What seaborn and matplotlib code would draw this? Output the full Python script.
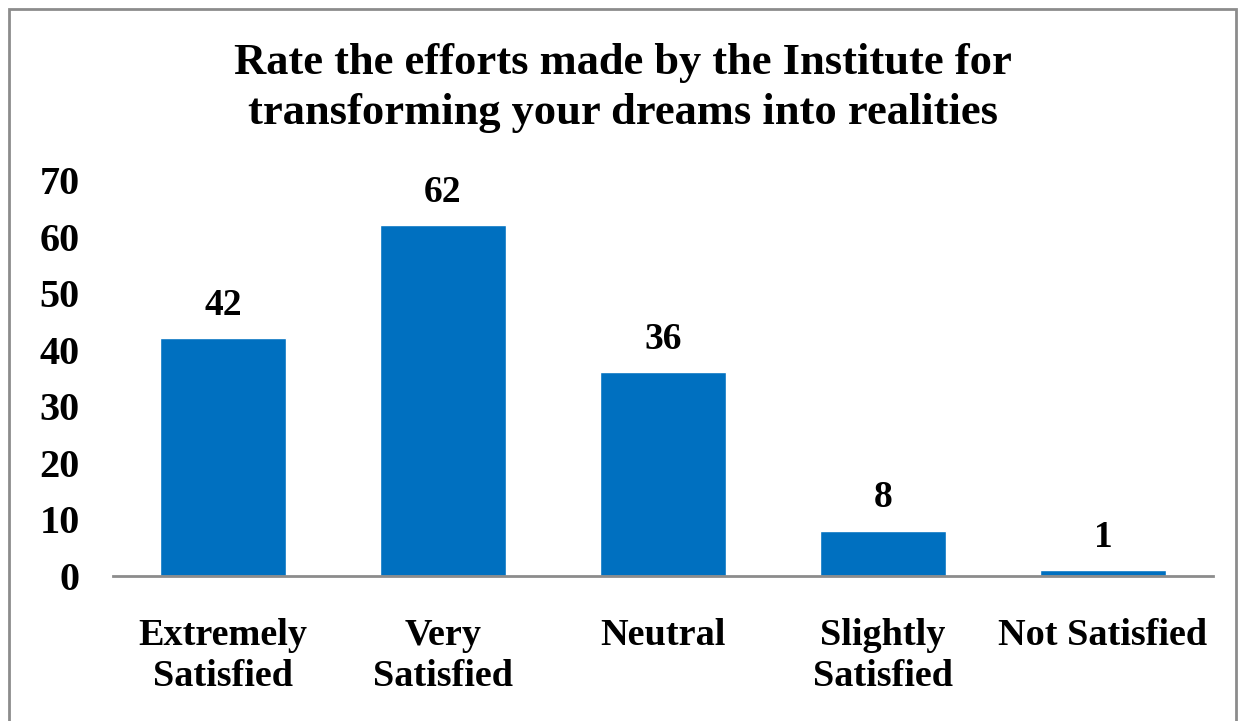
import matplotlib
matplotlib.use("Agg")
import matplotlib.pyplot as plt
import seaborn as sns
import pandas as pd
from matplotlib.patches import Rectangle

# data
categories = ["Extremely\nSatisfied", "Very\nSatisfied", "Neutral", "Slightly\nSatisfied", "Not Satisfied"]
counts = [42, 62, 36, 8, 1]
yticks = [0, 10, 20, 30, 40, 50, 60, 70]

df = pd.DataFrame({"category": categories, "count": counts})

sns.set_theme(style="white")
plt.rcParams['font.family'] = ['Liberation Serif', 'DejaVu Serif']
plt.rcParams['font.weight'] = 'bold'
plt.rcParams['text.color'] = 'black'
plt.rcParams['xtick.color'] = 'black'
plt.rcParams['ytick.color'] = 'black'

fig = plt.figure(figsize=(12.45, 7.21), dpi=100)
ax = fig.add_axes([0.0908, 0.2011, 0.8835, 0.5492])

sns.barplot(data=df, x="category", y="count", color="#0070C0", width=0.57,
            saturation=1, ax=ax)

# value labels above bars
for i, v in enumerate(counts):
    ax.annotate(str(v), (i, v), xytext=(0, 11), textcoords="offset points",
                ha="center", va="bottom", fontsize=27, fontweight="bold",
                color="black")

ax.set_ylim(0, 70)
ax.set_xlim(-0.5, len(categories) - 0.5)
ax.set_yticks(yticks)
ax.set_yticklabels([str(t) for t in yticks], fontsize=29, fontweight="bold")
ax.set_xticks(range(len(categories)))
ax.set_xticklabels(categories, fontsize=27.5, fontweight="bold", linespacing=1.25)
ax.tick_params(axis="y", length=0, pad=24)
ax.tick_params(axis="x", length=0, pad=30)
ax.set_xlabel("")
ax.set_ylabel("")

for side in ["top", "right", "left"]:
    ax.spines[side].set_visible(False)
ax.spines["bottom"].set_color("#8c8c8c")
ax.spines["bottom"].set_linewidth(2)

fig.text(0.5, 0.94, "Rate the efforts made by the Institute for\ntransforming your dreams into realities",
         ha="center", va="top", fontsize=32, fontweight="bold", linespacing=1.3,
         color="black")

# outer chart border
fig.patches.append(Rectangle((9 / 1245, -0.05), 1227 / 1245, 1 - 9 / 721 + 0.05,
                             transform=fig.transFigure, fill=False,
                             edgecolor="#8c8c8c", linewidth=2))

fig.savefig("out.png", dpi=100)
